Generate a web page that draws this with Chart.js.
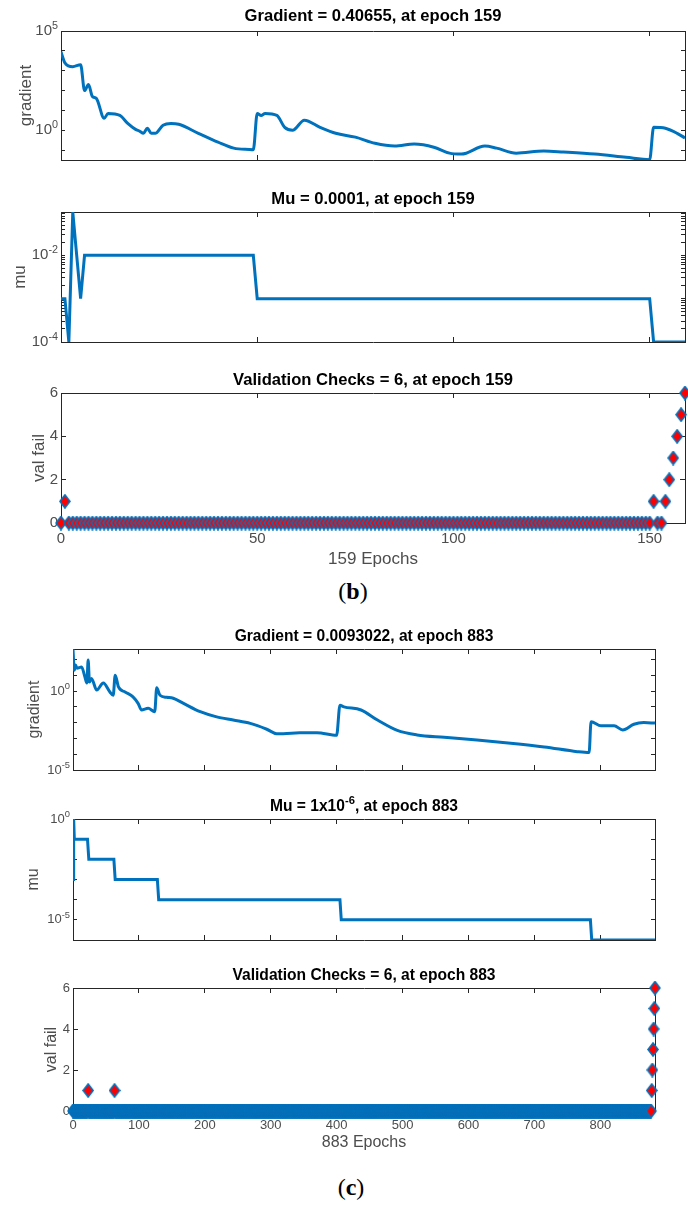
<!DOCTYPE html>
<html>
<head>
<meta charset="utf-8">
<title>Training state (b) and (c)</title>
<script src="https://cdn.jsdelivr.net/npm/chart.js@4.4.1/dist/chart.umd.min.js"></script>
<style>
  html, body { margin: 0; padding: 0; background: #fff; }
  body { position: relative; width: 688px; height: 1207px; overflow: hidden; }
  canvas { position: absolute; left: 0; }
  .caption {
    position: absolute;
    font-family: "Liberation Serif", "DejaVu Serif", serif;
    font-size: 24px;
    color: #000;
    transform: translate(-50%, -50%);
    white-space: nowrap;
  }
</style>
</head>
<body>
<div class="caption" style="left:353px; top:591px">(<b>b</b>)</div>
<div class="caption" style="left:351px; top:1187px">(<b>c</b>)</div>

<script>
// ---- data ----

// (b) 159 epochs
const gradBEpochs = [0, 1, 3, 5, 6, 7, 8, 9, 11, 12, 15, 17, 19, 20, 21, 22, 23, 24, 26, 28, 30, 35, 40, 44, 48, 49, 50, 51, 52, 55, 57, 59, 62, 66, 70, 75, 80, 85, 90, 95, 99, 102, 108, 111, 116, 123, 128, 136, 144, 150, 151, 154, 157, 159];
const gradBValues = [8900, 2500, 1600, 2000, 100, 200, 50, 40, 4.0, 7.0, 5.6, 2.2, 1.1, 0.9, 0.7, 1.25, 0.7, 0.7, 1.8, 2.2, 2.0, 0.7, 0.25, 0.125, 0.107, 0.105, 7.0, 5.6, 7.0, 5.6, 1.4, 1.0, 3.2, 1.4, 0.7, 0.45, 0.22, 0.16, 0.2, 0.14, 0.07, 0.063, 0.16, 0.125, 0.07, 0.09, 0.08, 0.063, 0.043, 0.033, 1.4, 1.25, 0.7, 0.40655];

const muBEpochs = [0, 1, 2, 3, 4, 5, 6, 49, 50, 150, 151, 159];
const muBValues = [1e-3, 1e-3, 1e-4, 1e-1, 1e-2, 1e-3, 1e-2, 1e-2, 1e-3, 1e-3, 1e-4, 1e-4];

const checksBLastEpoch = 159;
const checksBEpochs = [1, 151, 154, 155, 156, 157, 158, 159];   // every other epoch is 0
const checksBValues = [1, 1, 1, 2, 3, 4, 5, 6];

// (c) 883 epochs
const gradCEpochs = [0, 2, 4, 6, 13, 18, 21, 23, 25, 28, 36, 46, 56, 61, 64, 69, 79, 91, 99, 104, 114, 124, 127, 132, 142, 152, 167, 193, 218, 243, 269, 294, 309, 319, 344, 370, 400, 405, 411, 437, 462, 492, 522, 563, 613, 664, 715, 765, 783, 786, 801, 821, 834, 851, 866, 883];
const gradCValues = [437, 21, 45, 28, 33, 8, 3.2, 91, 3.7, 6.3, 1.15, 3.2, 0.87, 0.54, 10, 1.8, 0.87, 0.43, 0.16, 0.063, 0.08, 0.049, 1.6, 0.54, 0.4, 0.35, 0.17, 0.049, 0.023, 0.0145, 0.0089, 0.0038, 0.002, 0.002, 0.0023, 0.0023, 0.0016, 0.126, 0.1, 0.063, 0.0145, 0.0032, 0.00166, 0.00117, 0.00079, 0.0005, 0.00029, 0.000145, 0.000126, 0.0115, 0.0063, 0.0063, 0.0034, 0.0079, 0.01, 0.0093022];

const muCEpochs = [0, 1, 2, 22, 24, 62, 64, 128, 130, 405, 407, 785, 787, 883];
const muCValues = [1e-3, 1, 0.1, 0.1, 0.01, 0.01, 1e-3, 1e-3, 1e-4, 1e-4, 1e-5, 1e-5, 1e-6, 1e-6];

const checksCLastEpoch = 883;
const checksCEpochs = [23, 63, 878, 879, 880, 881, 882, 883];   // every other epoch is 0
const checksCValues = [1, 1, 1, 2, 3, 4, 5, 6];

// ---- ticks and labels ----
const epochTicksB = [0, 50, 100, 150];
const epochTicksC = [0, 100, 200, 300, 400, 500, 600, 700, 800];

const gradBTicks = [1e-1, 1, 1e1, 1e2, 1e3, 1e4, 1e5];
const gradBLabelValues = [1, 1e5];
const gradBLabelExps = ['0', '5'];

const muBTicks = [1e-4, 2e-4, 3e-4, 4e-4, 5e-4, 6e-4, 7e-4, 8e-4, 9e-4,
                  1e-3, 2e-3, 3e-3, 4e-3, 5e-3, 6e-3, 7e-3, 8e-3, 9e-3,
                  1e-2, 2e-2, 3e-2, 4e-2, 5e-2, 6e-2, 7e-2, 8e-2, 9e-2, 1e-1];
const muBLabelValues = [1e-4, 1e-2];
const muBLabelExps = ['-4', '-2'];

const gradCTicks = [1e-5, 1e-4, 1e-3, 1e-2, 1e-1, 1, 1e1, 1e2];
const gradCLabelValues = [1e-5, 1];
const gradCLabelExps = ['-5', '0'];

const muCTicks = [1e-5, 1e-4, 1e-3, 1e-2, 1e-1, 1];
const muCLabelValues = [1e-5, 1];
const muCLabelExps = ['-5', '0'];

const checkTicks = [0, 2, 4, 6];

// ---- styling ----
const lineBlue = '#0072bd';
const markerRed = '#ff0000';
const axisColor = '#262626';
const labelGray = '#4d4d4d';
const fontFamily = "'Liberation Sans', Arial, Helvetica, sans-serif";

Chart.defaults.font.family = fontFamily;

/**
 * Pair epochs with values for a linear x axis
 */
function toPoints(epochs, values) {
  return epochs.map((e, i) => ({ x: e, y: values[i] }));
}

/**
 * One point per epoch; epochs not listed had zero validation failures
 */
function checkPoints(lastEpoch, epochs, values) {
  const pts = [];
  for (let e = 0; e <= lastEpoch; e++) {
    const k = epochs.indexOf(e);
    pts.push({ x: e, y: k >= 0 ? values[k] : 0 });
  }
  return pts;
}

/**
 * MATLAB style diamond marker: red face, blue edge
 */
function makeDiamond(w, h) {
  const c = document.createElement('canvas');
  c.width = w;
  c.height = h;
  const g = c.getContext('2d');
  g.beginPath();
  g.moveTo(w / 2, 1);
  g.lineTo(w - 1, h / 2);
  g.lineTo(w / 2, h - 1);
  g.lineTo(1, h / 2);
  g.closePath();
  g.fillStyle = markerRed;
  g.fill();
  g.lineWidth = 1.6;
  g.strokeStyle = lineBlue;
  g.stroke();
  return c;
}

/**
 * Draw text pieces, some of them as superscripts. segs = [[text, isSup], ...]
 */
function drawRich(ctx, segs, x, y, align, size, weight, color) {
  const supSize = size * 0.72;
  const baseFont = weight + ' ' + size + 'px ' + fontFamily;
  const supFont = weight + ' ' + supSize + 'px ' + fontFamily;
  let total = 0;
  const widths = segs.map(([t, sup]) => {
    ctx.font = sup ? supFont : baseFont;
    const w = ctx.measureText(t).width;
    total += w;
    return w;
  });
  let cx = align === 'right' ? x - total : align === 'center' ? x - total / 2 : x;
  ctx.fillStyle = color;
  ctx.textAlign = 'left';
  ctx.textBaseline = 'middle';
  segs.forEach(([t, sup], i) => {
    ctx.font = sup ? supFont : baseFont;
    ctx.fillText(t, cx, sup ? y - size * 0.33 : y);
    cx += widths[i];
  });
}

// titles and power-of-ten tick labels, drawn with superscripts
const matlabTextPlugin = {
  id: 'matlabText',
  afterDraw(chart, args, opts) {
    const ctx = chart.ctx;
    const area = chart.chartArea;
    ctx.save();
    if (opts.title) {
      drawRich(ctx, opts.title, (area.left + area.right) / 2, opts.titleY, 'center', opts.titleSize, 'bold', '#000');
    }
    if (opts.powerValues) {
      const scale = chart.scales.y;
      opts.powerValues.forEach((v, i) => {
        const y = scale.getPixelForValue(v);
        drawRich(ctx, [['10', false], [opts.powerExps[i], true]], area.left - 3, y, 'right', opts.tickSize, 'normal', labelGray);
      });
    }
    ctx.restore();
  }
};

function setTicks(values) {
  return scale => { scale.ticks = values.map(v => ({ value: v })); };
}

function boxGrid(len) {
  return {
    drawOnChartArea: false,
    drawTicks: true,
    tickLength: len,
    tickColor: axisColor,
    tickWidth: 1
  };
}

const boxBorder = { display: true, color: axisColor, width: 1 };

/**
 * Build one MATLAB-like subplot on its own canvas
 */
function buildPanel(p) {
  const canvasTop = p.plotTop - 30;
  const xHeight = p.xTitle ? 45 : 0;
  const height = p.plotBottom - canvasTop + (p.xTitle ? 45 : 4);

  const canvas = document.createElement('canvas');
  canvas.width = 688;
  canvas.height = height;
  canvas.style.top = canvasTop + 'px';
  document.body.appendChild(canvas);

  const isLog = p.yType === 'logarithmic';
  const tickLen = isLog ? -4 : -5;

  new Chart(canvas.getContext('2d'), {
    type: 'line',
    data: { datasets: p.datasets },
    plugins: [matlabTextPlugin],
    options: {
      responsive: false,
      animation: false,
      events: [],
      layout: {
        autoPadding: false,
        padding: { top: 30, left: 0, right: 688 - p.right, bottom: p.xTitle ? 0 : 4 }
      },
      plugins: {
        legend: { display: false },
        tooltip: { enabled: false },
        title: { display: false },
        matlabText: {
          title: p.title,
          titleY: p.titleY - canvasTop,
          titleSize: p.titleSize,
          tickSize: p.tickSize,
          powerValues: isLog ? p.yLabelValues : null,
          powerExps: isLog ? p.yLabelExps : null
        }
      },
      scales: {
        x: {
          type: 'linear',
          position: 'bottom',
          min: 0,
          max: p.lastEpoch,
          afterBuildTicks: setTicks(p.xTicks),
          afterFit: s => { s.height = xHeight; },
          border: boxBorder,
          grid: boxGrid(-5),
          ticks: {
            display: !!p.xTitle,
            autoSkip: false,
            maxRotation: 0,
            padding: p.xTickPad || 0,
            color: labelGray,
            font: { size: p.tickSize }
          },
          title: {
            display: !!p.xTitle,
            text: p.xTitle || '',
            color: labelGray,
            font: { size: p.axisTitleSize, lineHeight: '16px' },
            padding: { top: 0, bottom: p.xTitle ? (p.plotBottom + 45) - p.xTitleY - 8 : 0 }
          }
        },
        x2: {
          type: 'linear',
          position: 'top',
          min: 0,
          max: p.lastEpoch,
          afterBuildTicks: setTicks(p.xTicks),
          afterFit: s => { s.height = 0; },
          border: boxBorder,
          grid: boxGrid(-5),
          ticks: { display: false }
        },
        y: {
          type: p.yType,
          position: 'left',
          min: p.yMin,
          max: p.yMax,
          afterBuildTicks: setTicks(p.yTicks),
          afterFit: s => { s.width = p.left; },
          border: boxBorder,
          grid: boxGrid(tickLen),
          ticks: {
            display: !isLog,
            autoSkip: false,
            padding: 3 - tickLen,
            color: labelGray,
            font: { size: p.tickSize }
          },
          title: {
            display: true,
            text: p.yTitle,
            color: labelGray,
            font: { size: p.axisTitleSize, lineHeight: '16px' },
            padding: { top: p.yTitleX - 8, bottom: 0 }
          }
        },
        y2: {
          type: p.yType,
          position: 'right',
          min: p.yMin,
          max: p.yMax,
          afterBuildTicks: setTicks(p.yTicks),
          afterFit: s => { s.width = 0; },
          border: boxBorder,
          grid: boxGrid(tickLen),
          ticks: { display: false }
        }
      }
    }
  });
}

// smooth gradient curve that keeps the sudden jumps sharp
function curveSet(points) {
  return {
    data: points,
    borderColor: lineBlue,
    borderWidth: 3,
    pointRadius: 0,
    cubicInterpolationMode: 'monotone',
    fill: false
  };
}

// mu changes in steps, straight segments
function stepSet(points) {
  return {
    data: points,
    borderColor: lineBlue,
    borderWidth: 3,
    pointRadius: 0,
    tension: 0,
    fill: false
  };
}

// validation checks: markers only
function checkSet(points, marker) {
  return {
    data: points,
    showLine: false,
    pointStyle: marker,
    pointRadius: 6,
    clip: false
  };
}

function initializeFigure() {
  const diamondB = makeDiamond(12, 15);
  const diamondC = makeDiamond(12, 15);

  const bPanel = { left: 61, right: 685, lastEpoch: 159, xTicks: epochTicksB, titleSize: 16.6, tickSize: 15, axisTitleSize: 17 };
  const cPanel = { left: 73, right: 655, lastEpoch: 883, xTicks: epochTicksC, titleSize: 15.6, tickSize: 13, axisTitleSize: 16 };

  buildPanel(Object.assign({}, bPanel, {
    title: [['Gradient = 0.40655, at epoch 159', false]], titleY: 16.5, plotTop: 31, plotBottom: 160,
    yType: 'logarithmic', yMin: Math.pow(10, -1.5), yMax: 1e5,
    yTicks: gradBTicks, yLabelValues: gradBLabelValues, yLabelExps: gradBLabelExps,
    yTitle: 'gradient', yTitleX: 26,
    datasets: [curveSet(toPoints(gradBEpochs, gradBValues))]
  }));

  buildPanel(Object.assign({}, bPanel, {
    title: [['Mu = 0.0001, at epoch 159', false]], titleY: 199, plotTop: 212, plotBottom: 342,
    yType: 'logarithmic', yMin: 1e-4, yMax: 1e-1,
    yTicks: muBTicks, yLabelValues: muBLabelValues, yLabelExps: muBLabelExps,
    yTitle: 'mu', yTitleX: 20,
    datasets: [stepSet(toPoints(muBEpochs, muBValues))]
  }));

  buildPanel(Object.assign({}, bPanel, {
    title: [['Validation Checks = 6, at epoch 159', false]], titleY: 380, plotTop: 393, plotBottom: 523,
    yType: 'linear', yMin: 0, yMax: 6, yTicks: checkTicks,
    yTitle: 'val fail', yTitleX: 39,
    xTitle: '159 Epochs', xTitleY: 559, xTickPad: 12,
    datasets: [checkSet(checkPoints(checksBLastEpoch, checksBEpochs, checksBValues), diamondB)]
  }));

  buildPanel(Object.assign({}, cPanel, {
    title: [['Gradient = 0.0093022, at epoch 883', false]], titleY: 636.5, plotTop: 649, plotBottom: 770,
    yType: 'logarithmic', yMin: 1e-5, yMax: Math.pow(10, 2.66),
    yTicks: gradCTicks, yLabelValues: gradCLabelValues, yLabelExps: gradCLabelExps,
    yTitle: 'gradient', yTitleX: 35,
    datasets: [curveSet(toPoints(gradCEpochs, gradCValues))]
  }));

  buildPanel(Object.assign({}, cPanel, {
    title: [['Mu = 1x10', false], ['-6', true], [', at epoch 883', false]], titleY: 806.5, plotTop: 819, plotBottom: 940,
    yType: 'logarithmic', yMin: 1e-6, yMax: 1,
    yTicks: muCTicks, yLabelValues: muCLabelValues, yLabelExps: muCLabelExps,
    yTitle: 'mu', yTitleX: 34,
    datasets: [stepSet(toPoints(muCEpochs, muCValues))]
  }));

  buildPanel(Object.assign({}, cPanel, {
    title: [['Validation Checks = 6, at epoch 883', false]], titleY: 975.5, plotTop: 988, plotBottom: 1111,
    yType: 'linear', yMin: 0, yMax: 6, yTicks: checkTicks,
    yTitle: 'val fail', yTitleX: 52,
    xTitle: '883 Epochs', xTitleY: 1143, xTickPad: 12,
    datasets: [checkSet(checkPoints(checksCLastEpoch, checksCEpochs, checksCValues), diamondC)]
  }));
}

if (document.readyState === 'loading') {
  document.addEventListener('DOMContentLoaded', initializeFigure);
} else {
  initializeFigure();
}
</script>
</body>
</html>
